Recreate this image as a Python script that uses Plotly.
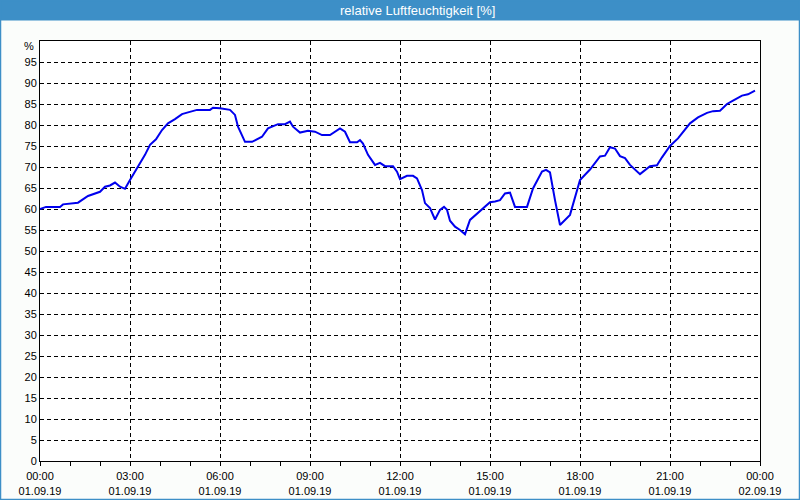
import plotly.graph_objects as go
from datetime import datetime, timedelta

# Data (time of day on 01.09.19, relative humidity %)
times = ["00:00", "00:12", "00:40", "00:46", "01:16", "01:36", "02:00", "02:10",
         "02:20", "02:30", "02:40", "02:50", "03:00", "03:12", "03:30", "03:40",
         "03:52", "04:04", "04:16", "04:30", "04:44", "04:56", "05:14", "05:40",
         "05:46", "06:00", "06:20", "06:30", "06:36", "06:50", "07:04", "07:24",
         "07:36", "07:56", "08:10", "08:20", "08:26", "08:40", "08:56", "09:10",
         "09:24", "09:40", "09:50", "10:00", "10:10", "10:20", "10:34", "10:40",
         "10:46", "10:56", "11:10", "11:20", "11:30", "11:46", "11:54", "12:00",
         "12:14", "12:26", "12:34", "12:44", "12:50", "13:00", "13:10", "13:20",
         "13:28", "13:34", "13:40", "13:50", "14:00", "14:10", "14:20", "14:44",
         "15:00", "15:10", "15:20", "15:30", "15:40", "15:50", "16:14", "16:26",
         "16:44", "16:52", "17:00", "17:10", "17:20", "17:40", "18:00", "18:20",
         "18:40", "18:50", "19:00", "19:10", "19:20", "19:30", "19:40", "20:00",
         "20:20", "20:34", "20:44", "21:00", "21:16", "21:40", "21:56", "22:14",
         "22:26", "22:40", "22:54", "23:06", "23:24", "23:36", "23:50"]
humidity = [60.0, 60.5, 60.5, 61.1, 61.5, 63.1, 64.1, 65.3,
            65.6, 66.3, 65.3, 64.8, 66.9, 69.3, 72.9, 75.3,
            76.6, 78.8, 80.4, 81.4, 82.6, 83.0, 83.6, 83.6,
            84.1, 84.0, 83.6, 82.4, 79.6, 76.0, 76.0, 77.2,
            79.2, 80.2, 80.2, 80.8, 79.6, 78.2, 78.6, 78.4,
            77.6, 77.6, 78.4, 79.2, 78.4, 75.9, 75.9, 76.4,
            75.6, 72.9, 70.5, 71.0, 70.2, 70.2, 68.9, 67.1,
            67.9, 67.9, 67.3, 64.5, 61.4, 60.2, 57.5, 59.8,
            60.5, 59.8, 57.2, 55.8, 55.0, 54.0, 57.4, 59.8,
            61.6, 61.8, 62.1, 63.7, 63.9, 60.5, 60.5, 64.9,
            68.9, 69.3, 68.7, 62.1, 56.2, 58.6, 66.9, 69.4,
            72.5, 72.7, 74.7, 74.4, 72.6, 72.1, 70.5, 68.3,
            70.2, 70.4, 72.3, 75.0, 76.8, 80.4, 81.8, 82.9,
            83.3, 83.4, 85.0, 85.8, 87.0, 87.3, 88.2]

tick_hours = [0, 3, 6, 9, 12, 15, 18, 21, 24]
tick_labels = ["00:00<br>01.09.19", "03:00<br>01.09.19", "06:00<br>01.09.19",
               "09:00<br>01.09.19", "12:00<br>01.09.19", "15:00<br>01.09.19",
               "18:00<br>01.09.19", "21:00<br>01.09.19", "00:00<br>02.09.19"]
y_ticks = list(range(0, 100, 5))

title_text = "relative Luftfeuchtigkeit [%]"

base = datetime(2019, 9, 1)
xs = [base + timedelta(hours=int(t[:2]), minutes=int(t[3:])) for t in times]
tickvals = [base + timedelta(hours=h) for h in tick_hours]

fig = go.Figure()
fig.add_trace(go.Scatter(x=xs, y=humidity, mode="lines",
                         line=dict(color="#0000ee", width=2), hoverinfo="skip"))

W, H = 800, 500
L, R, T, B = 40, 40, 41, 39
pw, ph = W - L - R, H - T - B


def px_x(p):
    return (p - L) / pw


def px_y(q):
    return (H - B - q) / ph


fig.update_layout(
    width=W, height=H,
    margin=dict(l=L, r=R, t=T, b=B),
    paper_bgcolor="#fbfdfb",
    plot_bgcolor="#ffffff",
    showlegend=False,
    font=dict(family="Liberation Sans, Arial, sans-serif", size=11, color="#000000"),
    xaxis=dict(
        type="date",
        range=[base, base + timedelta(hours=24)],
        tickvals=tickvals, ticktext=tick_labels,
        ticks="outside", ticklen=4, tickcolor="#000000", tickwidth=1,
        ticklabelstandoff=1, automargin=False,
        showline=True, linecolor="#000000", linewidth=1, mirror=True,
        showgrid=True, gridcolor="#000000", gridwidth=1, griddash="4px,3px",
        minor=dict(dtick=3600000, ticks="outside", ticklen=4, tickcolor="#000000",
                   showgrid=False),
        zeroline=False, fixedrange=True,
    ),
    yaxis=dict(
        range=[0, 100], automargin=False,
        tickvals=y_ticks, ticktext=[str(v) for v in y_ticks],
        ticks="", showline=True, linecolor="#000000", linewidth=1, mirror=True,
        showgrid=True, gridcolor="#000000", gridwidth=1, griddash="4px,3px",
        zeroline=False, fixedrange=True,
    ),
    shapes=[
        dict(type="rect", xref="paper", yref="paper",
             x0=px_x(0), x1=px_x(W), y0=px_y(20.5), y1=px_y(0),
             fillcolor="#3d8fc7", line=dict(width=0), layer="above"),
        dict(type="rect", xref="paper", yref="paper",
             x0=px_x(0.5), x1=px_x(W - 0.5), y0=px_y(H - 0.5), y1=px_y(0.5),
             fillcolor="rgba(0,0,0,0)", line=dict(color="#3d8fc7", width=1.5),
             layer="above"),
    ],
    annotations=[
        dict(text=title_text, xref="paper", yref="paper", x=px_x(417), y=px_y(10.5),
             xanchor="center", yanchor="middle", showarrow=False,
             font=dict(color="#ffffff", size=13, family="Liberation Sans, Arial, sans-serif")),
        dict(text="%", xref="paper", yref="y", x=0, y=100, xanchor="right",
             yanchor="middle", xshift=-4, yshift=-5, showarrow=False,
             font=dict(size=11, color="#000000")),
    ],
)

fig.write_html("out.html")
